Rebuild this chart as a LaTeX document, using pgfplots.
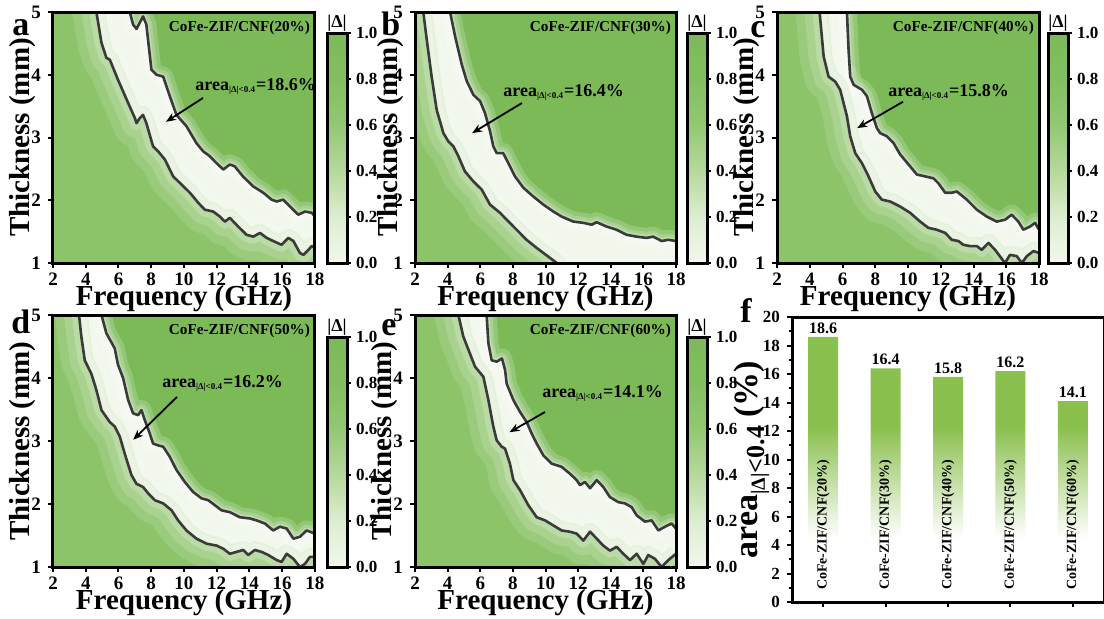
\documentclass[border=0pt]{standalone}
\usepackage{fontspec}
\setmainfont{Liberation Serif}
\usepackage{pgfplots}
\usepackage{pgfplotstable}
\pgfplotsset{compat=1.18}
\usetikzlibrary{arrows.meta}
\pgfkeys{/pgf/number format/assume math mode=true}

\definecolor{bgG}{RGB}{124,186,88}
\definecolor{lowG}{RGB}{141,196,106}
\definecolor{bandW}{RGB}{241,247,235}
\definecolor{lineK}{RGB}{58,58,58}
\definecolor{barG}{RGB}{138,192,78}
\definecolor{cb0}{RGB}{242,248,237}
\definecolor{cb2}{RGB}{220,237,208}
\definecolor{cb4}{RGB}{181,217,156}
\definecolor{cb6}{RGB}{147,200,115}
\definecolor{cb8}{RGB}{130,191,97}
\pgfdeclareverticalshading{barfade}{100bp}{color(0bp)=(white); color(25bp)=(white); color(37bp)=(white); color(58bp)=(barG); color(100bp)=(barG)}
\pgfdeclareverticalshading{cbshade}{100bp}{color(0bp)=(cb0); color(25bp)=(cb0); color(35bp)=(cb2); color(45bp)=(cb4); color(55bp)=(cb6); color(65bp)=(cb8); color(75bp)=(bgG); color(100bp)=(bgG)}

% contour lines |Delta| = 0.4 (upper and lower)
\pgfplotstableread{
x y
2 6
6.69 6
6.69 5
6.89 4.80
7.10 4.73
7.50 4.93
7.70 4.80
8.01 4.08
8.32 4.00
8.73 3.97
9.13 3.66
9.54 3.36
10.15 3.18
10.76 2.91
11.17 2.78
11.58 2.70
11.99 2.59
12.40 2.49
12.80 2.57
13.10 2.54
13.60 2.38
14.23 2.22
14.84 2.12
15.35 2.01
15.66 1.98
16.06 2.01
16.47 1.90
16.98 1.77
17.39 1.82
17.80 1.80
18.00 1.74
}\upA
\pgfplotstableread{
x y
2 6
4.65 6
4.65 5
4.96 4.51
5.26 4.27
5.47 4.24
5.97 3.92
6.59 3.55
7.00 3.31
7.10 3.23
7.30 3.31
7.50 3.36
7.70 3.23
8.11 2.86
8.42 2.78
8.83 2.65
9.34 2.38
9.85 2.25
10.36 2.12
10.87 1.96
11.27 1.85
11.78 1.82
12.19 1.74
12.50 1.66
12.80 1.72
13.31 1.58
13.82 1.45
14.23 1.42
14.64 1.48
15.05 1.40
15.45 1.35
15.96 1.29
16.37 1.40
16.68 1.35
17.08 1.16
17.29 1.13
17.60 1.21
17.80 1.27
18.00 1.24
}\lowA
\pgfplotstableread{
x y
2 6
4.15 6
4.15 5
4.46 4.61
4.87 4.16
5.17 3.90
5.58 3.68
5.99 3.58
6.29 3.39
6.60 3.10
6.80 2.86
7.01 2.75
7.41 2.75
7.82 2.54
8.13 2.38
8.64 2.20
9.25 2.06
9.87 1.93
10.48 1.82
10.99 1.74
11.70 1.66
12.32 1.64
12.83 1.61
13.14 1.65
13.75 1.58
14.36 1.53
14.97 1.45
15.58 1.42
16.20 1.40
16.60 1.42
17.12 1.35
17.53 1.37
18.00 1.35
}\upB
\pgfplotstableread{
x y
2 6
2.51 6
2.51 5
2.72 4.56
3.02 3.97
3.33 3.44
3.74 3.07
4.04 2.94
4.35 2.86
4.66 2.70
5.06 2.46
5.58 2.30
6.09 2.17
6.60 1.93
7.21 1.80
7.62 1.69
8.23 1.53
8.84 1.37
9.46 1.24
10.28 1.08
10.69 1.00
10.90 0.90
}\lowB
\pgfplotstableread{
x y
2 6
6.27 6
6.27 5
6.37 4.40
6.47 3.97
6.68 3.84
7.19 3.76
7.49 3.66
7.79 3.39
8.10 3.15
8.30 3.07
8.71 3.02
9.12 2.91
9.52 2.73
10.13 2.54
10.54 2.41
11.05 2.38
11.55 2.35
11.86 2.27
12.27 2.12
12.67 2.12
12.98 2.14
13.59 2.01
14.20 1.85
14.81 1.74
15.42 1.66
15.93 1.69
16.33 1.77
16.74 1.66
17.04 1.53
17.45 1.58
17.76 1.64
18.00 1.53
}\upC
\pgfplotstableread{
x y
2 6
4.60 6
4.60 5
4.85 4.29
5.15 3.97
5.56 3.89
5.86 3.76
6.27 3.34
6.47 3.02
6.78 2.75
7.19 2.59
7.59 2.38
8.00 2.14
8.40 2.01
8.91 1.98
9.52 1.90
10.13 1.80
10.74 1.66
11.25 1.56
11.76 1.53
12.27 1.48
12.67 1.37
13.08 1.35
13.38 1.29
13.79 1.27
14.20 1.27
14.50 1.21
14.91 1.32
15.32 1.21
15.92 1.00
16.23 1.13
16.64 1.11
16.95 1.00
17.26 1.11
17.66 1.19
18.00 1.16
}\lowC
\pgfplotstableread{
x y
2 6
4.96 6
4.96 5
5.26 4.71
5.77 4.47
5.97 4.21
6.28 4.00
6.59 3.65
6.89 3.44
7.20 3.41
7.40 3.49
7.61 3.33
7.91 3.12
8.11 2.96
8.42 2.93
8.73 2.91
9.13 2.75
9.54 2.54
10.05 2.35
10.56 2.19
11.07 2.09
11.48 2.06
11.89 1.98
12.29 1.90
12.80 1.87
13.41 1.79
14.03 1.77
14.43 1.74
14.94 1.69
15.45 1.58
15.86 1.64
16.27 1.61
16.68 1.45
17.08 1.48
17.49 1.58
18.00 1.53
}\upD
\pgfplotstableread{
x y
2 6
3.59 6
3.59 5
3.73 4.66
3.94 4.28
4.34 4.07
4.65 3.81
4.96 3.49
5.47 3.30
5.77 3.23
6.08 3.07
6.38 2.80
6.79 2.46
7.10 2.32
7.50 2.27
7.81 2.17
8.22 2.06
8.73 2.01
9.24 1.90
9.64 1.74
10.15 1.58
10.76 1.45
11.38 1.37
11.99 1.34
12.40 1.29
12.80 1.21
13.21 1.24
13.62 1.27
13.92 1.19
14.33 1.27
14.74 1.24
15.15 1.19
15.66 1.11
15.96 1.08
16.27 1.21
16.68 1.13
17.08 1.00
17.39 1.05
17.69 1.16
18.00 1.16
}\lowD
\pgfplotstableread{
x y
2 6
6.39 6
6.39 5
6.50 4.55
6.70 4.28
7.01 4.26
7.33 4.31
7.52 4.13
7.62 3.91
8.03 3.65
8.44 3.46
8.85 3.30
9.15 3.12
9.46 2.96
9.87 2.77
10.38 2.64
10.99 2.59
11.50 2.48
11.91 2.38
12.11 2.30
12.42 2.35
12.73 2.25
13.14 2.38
13.54 2.27
13.95 2.11
14.46 2.03
14.87 2.01
15.28 1.95
15.59 1.82
16.10 1.72
16.51 1.74
16.92 1.58
17.33 1.64
17.73 1.69
18.00 1.61
}\upE
\pgfplotstableread{
x y
2 6
4.66 6
4.66 5
4.96 4.66
5.68 4.18
6.19 4.02
6.50 3.65
6.80 3.23
7.01 3.01
7.31 2.91
7.52 2.88
7.82 2.64
8.03 2.38
8.44 2.22
8.95 1.98
9.46 1.79
9.97 1.74
10.48 1.66
10.99 1.58
11.50 1.56
11.91 1.53
12.32 1.42
12.73 1.56
13.14 1.45
13.54 1.34
13.95 1.26
14.36 1.32
14.77 1.21
15.18 1.11
15.59 1.21
16.00 1.05
16.30 1.19
16.71 1.13
17.12 1.00
17.53 1.11
18.00 1.21
}\lowE

\pgfplotsset{
  contour/.style={
    anchor=south west, scale only axis, width=131pt, height=125.5pt,
    xmin=2, xmax=18, ymin=1, ymax=5,
    xtick={2,4,...,18}, ytick={1,2,...,5},
    tick align=outside, xtick pos=bottom, ytick pos=left,
    major tick length=2.5pt,
    every tick/.style={black, line width=1pt},
    axis line style={line width=1.5pt},
    axis background/.style={fill=bgG},
    axis on top,
    tick label style={font=\fontsize{9.5}{10}\selectfont\bfseries},
    xticklabel style={yshift=1pt},
    xlabel={Frequency (GHz)}, ylabel={Thickness (mm)},
    label style={font=\fontsize{14.5}{15}\selectfont\bfseries},
    xlabel style={yshift=7pt}, ylabel style={yshift=-9pt},
  },
  cbar/.style={
    anchor=south west, scale only axis, width=10pt, height=115pt,
    xmin=0, xmax=1, ymin=0, ymax=1, clip=false,
    xtick=\empty, ytick={0,0.2,...,1.01},
    ytick pos=right, yticklabel pos=right,
    tick align=outside, major tick length=2pt,
    every tick/.style={black, line width=1pt},
    axis line style={line width=1.5pt},
    axis background/.style={shade, shading=cbshade},
    yticklabel style={font=\fontsize{8.5}{9}\selectfont\bfseries, xshift=-1pt,
      /pgf/number format/fixed, /pgf/number format/fixed zerofill,
      /pgf/number format/precision=1},
  },
}
\tikzset{
  cofe/.style={anchor=north east, inner sep=1pt, font=\fontsize{7.6}{8}\selectfont\bfseries},
  annot/.style={anchor=west, inner sep=0pt, font=\fontsize{9}{10}\selectfont\bfseries},
  annarrow/.style={-{Stealth[length=5pt,width=4pt]}, line width=0.9pt, black},
  cbtitle/.style={anchor=base, inner sep=0pt, font=\fontsize{9}{9}\selectfont\bfseries},
}

\newcommand{\arealab}[1]{area\textsubscript{\fontsize{4.5}{5}\selectfont |Δ|<0.4}=#1\%}
\newcommand{\contourlayers}[2]{%
  \addplot[draw=none, fill=bandW] table {#1} \closedcycle;
  \addplot[white, line width=10pt, opacity=0.18, line join=round] table {#1};
  \addplot[white, line width=6pt, opacity=0.2, line join=round] table {#1};
  \addplot[white, line width=3pt, opacity=0.25, line join=round] table {#1};
  \addplot[lowG, line width=9pt, opacity=0.18, line join=round] table {#2};
  \addplot[draw=none, fill=lowG] table {#2} \closedcycle;
  \addplot[white, line width=24pt, opacity=0.12, line join=round] table {#2};
  \addplot[white, line width=15pt, opacity=0.15, line join=round] table {#2};
  \addplot[white, line width=7pt, opacity=0.2, line join=round] table {#2};
  \addplot[lineK, line width=1.3pt, line join=round] table {#1};
  \addplot[lineK, line width=1.3pt, line join=round] table {#2};
}

\begin{document}
\begin{tikzpicture}
\useasboundingbox (0,0) rectangle (552pt,309pt);

% (a) 20%
\begin{axis}[contour, at={(26.5pt,177.5pt)}]
  \contourlayers{\upA}{\lowA}
  \node[cofe] at (rel axis cs:0.99,0.975) {CoFe-ZIF/CNF(20\%)};
  \node[annot] at (axis cs:10.67,3.82) {\arealab{18.6}};
  \draw[annarrow] (axis cs:11.16,3.63) -- (axis cs:8.9,3.25);
\end{axis}
\begin{axis}[cbar, at={(163.5pt,177.5pt)}]
  \node[cbtitle] at ([yshift=3pt]rel axis cs:0.5,1) {|Δ|};
\end{axis}

% (b) 30%
\begin{axis}[contour, at={(207.5pt,177.5pt)}, width=130.5pt, ylabel style={yshift=-3pt}]
  \contourlayers{\upB}{\lowB}
  \node[cofe] at (rel axis cs:0.99,0.975) {CoFe-ZIF/CNF(30\%)};
  \node[annot] at (axis cs:7.4,3.71) {\arealab{16.4}};
  \draw[annarrow] (axis cs:8.56,3.55) -- (axis cs:5.5,3.07);
\end{axis}
\begin{axis}[cbar, at={(343.5pt,177.5pt)}]
  \node[cbtitle] at ([yshift=3pt]rel axis cs:0.5,1) {|Δ|};
\end{axis}

% (c) 40%
\begin{axis}[contour, at={(388.5pt,177.5pt)}]
  \contourlayers{\upC}{\lowC}
  \node[cofe] at (rel axis cs:0.99,0.975) {CoFe-ZIF/CNF(40\%)};
  \node[annot] at (axis cs:8.78,3.71) {\arealab{15.8}};
  \draw[annarrow] (axis cs:9.7,3.57) -- (axis cs:6.9,3.15);
\end{axis}
\begin{axis}[cbar, at={(524pt,177.5pt)}]
  \node[cbtitle] at ([yshift=3pt]rel axis cs:0.5,1) {|Δ|};
\end{axis}

% (d) 50%
\begin{axis}[contour, at={(26.5pt,25.5pt)}, height=126pt]
  \contourlayers{\upD}{\lowD}
  \node[cofe] at (rel axis cs:0.99,0.975) {CoFe-ZIF/CNF(50\%)};
  \node[annot] at (axis cs:8.66,3.92) {\arealab{16.2}};
  \draw[annarrow] (axis cs:9.57,3.70) -- (axis cs:6.9,3.02);
\end{axis}
\begin{axis}[cbar, at={(163.5pt,25.5pt)}]
  \node[cbtitle] at ([yshift=3pt]rel axis cs:0.5,1) {|Δ|};
\end{axis}

% (e) 60%
\begin{axis}[contour, at={(207.5pt,25.5pt)}, width=130.5pt, height=126pt]
  \contourlayers{\upE}{\lowE}
  \node[cofe] at (rel axis cs:0.99,0.975) {CoFe-ZIF/CNF(60\%)};
  \node[annot] at (axis cs:9.79,3.76) {\arealab{14.1}};
  \draw[annarrow] (axis cs:9.97,3.46) -- (axis cs:7.8,3.14);
\end{axis}
\begin{axis}[cbar, at={(343.5pt,25.5pt)}]
  \node[cbtitle] at ([yshift=3pt]rel axis cs:0.5,1) {|Δ|};
\end{axis}

% (f) bar chart
\begin{axis}[
  at={(396pt,8pt)}, anchor=south west, scale only axis,
  width=156pt, height=142.5pt,
  xmin=0.5, xmax=5.5, ymin=0, ymax=20,
  xtick={1,...,5}, xticklabels={},
  ytick={0,2,...,20}, minor y tick num=1,
  tick align=outside, xtick pos=bottom, ytick pos=left,
  major tick length=2.5pt, minor tick length=1.5pt,
  every tick/.style={black, line width=1pt},
  axis line style={line width=1.5pt},
  axis on top,
  tick label style={font=\fontsize{8.5}{9}\selectfont\bfseries},
  ylabel={area\raisebox{-0.22em}{\fontsize{10}{10}\selectfont|Δ|\fontsize{13}{13}\selectfont<0.4} (\%)},
  ylabel style={font=\fontsize{17}{18}\selectfont\bfseries, yshift=-10pt},
  ybar, bar width=15pt,
  nodes near coords,
  nodes near coords style={text=black, font=\fontsize{8}{9}\selectfont\bfseries, inner sep=1.5pt},
]
\addplot[draw=none, shade, shading=barfade] coordinates {(1,18.6) (2,16.4) (3,15.8) (4,16.2) (5,14.1)};
\node[rotate=90, anchor=west, font=\fontsize{7}{8}\selectfont\bfseries] at (axis cs:1,0.35) {CoFe-ZIF/CNF(20\%)};
\node[rotate=90, anchor=west, font=\fontsize{7}{8}\selectfont\bfseries] at (axis cs:2,0.35) {CoFe-ZIF/CNF(30\%)};
\node[rotate=90, anchor=west, font=\fontsize{7}{8}\selectfont\bfseries] at (axis cs:3,0.35) {CoFe-ZIF/CNF(40\%)};
\node[rotate=90, anchor=west, font=\fontsize{7}{8}\selectfont\bfseries] at (axis cs:4,0.35) {CoFe-ZIF/CNF(50\%)};
\node[rotate=90, anchor=west, font=\fontsize{7}{8}\selectfont\bfseries] at (axis cs:5,0.35) {CoFe-ZIF/CNF(60\%)};
\end{axis}

% panel letters
\node[anchor=base west, inner sep=0pt, font=\fontsize{17}{17}\selectfont\bfseries] at (6pt,291.5pt) {a};
\node[anchor=base west, inner sep=0pt, font=\fontsize{17}{17}\selectfont\bfseries] at (190.5pt,291.5pt) {b};
\node[anchor=base west, inner sep=0pt, font=\fontsize{17}{17}\selectfont\bfseries] at (375pt,290.5pt) {c};
\node[anchor=base west, inner sep=0pt, font=\fontsize{17}{17}\selectfont\bfseries] at (5.5pt,142.5pt) {d};
\node[anchor=base west, inner sep=0pt, font=\fontsize{17}{17}\selectfont\bfseries] at (190.5pt,141.5pt) {e};
\node[anchor=base west, inner sep=0pt, font=\fontsize{17}{17}\selectfont\bfseries] at (370pt,148pt) {f};
\end{tikzpicture}
\end{document}
